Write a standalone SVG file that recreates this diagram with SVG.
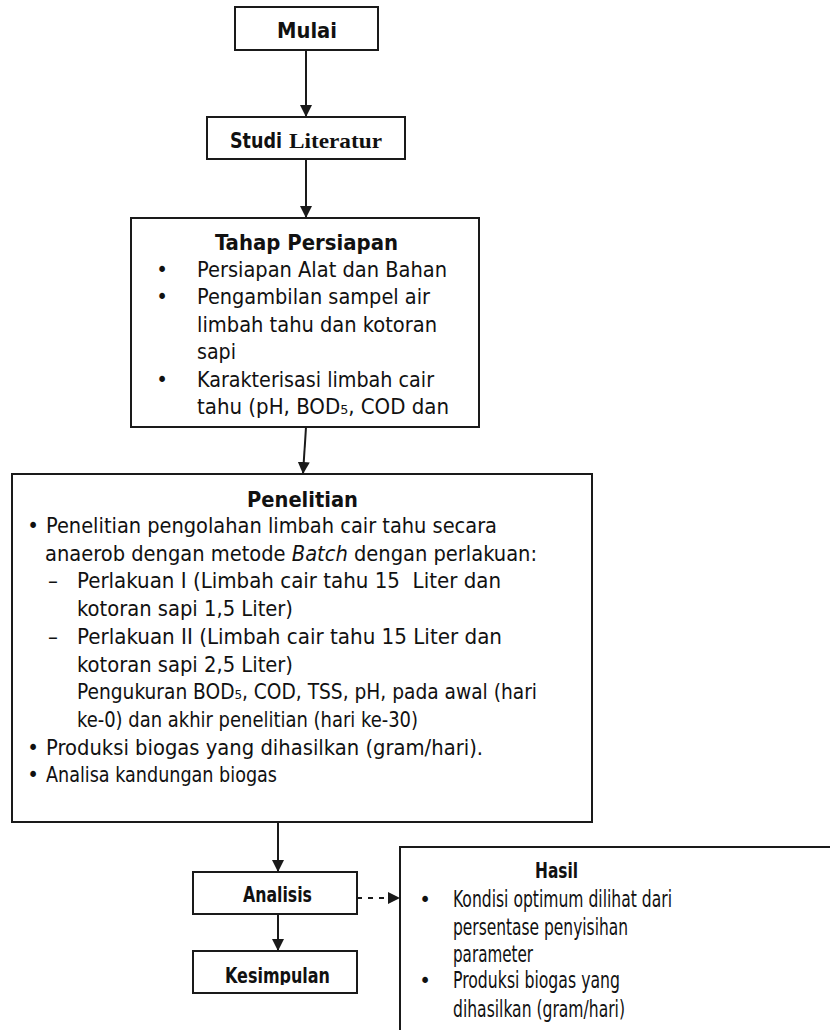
<svg xmlns="http://www.w3.org/2000/svg" width="830" height="1030" viewBox="0 0 830 1030">
<style>
  .box { fill: #ffffff; stroke: #1a1a1a; stroke-width: 2; }
  .t { font-family: "DejaVu Sans Condensed", "DejaVu Sans", sans-serif; font-size: 22px; fill: #111111; }
  .tb { font-family: "DejaVu Sans Condensed", "DejaVu Sans", sans-serif; font-size: 21px; font-weight: bold; fill: #111111; }
  .ts { font-family: "Liberation Serif", "Times New Roman", serif; font-size: 21px; font-weight: bold; fill: #111111; }
  .h { font-family: "DejaVu Sans Condensed", "DejaVu Sans", sans-serif; font-size: 23px; fill: #111111; }
  .conn { stroke: #1a1a1a; stroke-width: 2; fill: none; }
  .dash { stroke-dasharray: 5 6; }
</style>
<defs>
  <marker id="arr" markerUnits="userSpaceOnUse" markerWidth="12" markerHeight="12" refX="12" refY="6" orient="auto">
    <path d="M0,0 L12,6 L0,12 z" fill="#1a1a1a"/>
  </marker>
  <clipPath id="kclip"><rect x="193" y="951" width="164" height="34"/></clipPath>
</defs>

<g id="mulai">
  <rect class="box" x="235" y="7" width="143" height="43"/>
  <text class="tb" x="277" y="38" textLength="60" lengthAdjust="spacingAndGlyphs">Mulai</text>
</g>

<g id="studi">
  <rect class="box" x="207" y="117" width="198" height="42"/>
  <text class="tb" x="230" y="148" textLength="52" lengthAdjust="spacingAndGlyphs">Studi</text>
  <text class="ts" x="289" y="148" textLength="93" lengthAdjust="spacingAndGlyphs">Literatur</text>
</g>

<g id="persiapan">
  <rect class="box" x="131" y="218" width="348" height="209"/>
  <text class="tb" x="215" y="250" textLength="183" lengthAdjust="spacingAndGlyphs">Tahap Persiapan</text>
  <text class="t" x="162" y="277" text-anchor="middle">•</text>
  <text class="t" x="197" y="277" textLength="250" lengthAdjust="spacingAndGlyphs">Persiapan Alat dan Bahan</text>
  <text class="t" x="162" y="304" text-anchor="middle">•</text>
  <text class="t" x="197" y="304" textLength="233" lengthAdjust="spacingAndGlyphs">Pengambilan sampel air</text>
  <text class="t" x="197" y="332" textLength="240" lengthAdjust="spacingAndGlyphs">limbah tahu dan kotoran</text>
  <text class="t" x="197" y="359" textLength="39" lengthAdjust="spacingAndGlyphs">sapi</text>
  <text class="t" x="162" y="387" text-anchor="middle">•</text>
  <text class="t" x="197" y="387" textLength="237" lengthAdjust="spacingAndGlyphs">Karakterisasi limbah cair</text>
  <text class="t" x="197" y="414" textLength="252" lengthAdjust="spacingAndGlyphs">tahu (pH, BOD₅, COD dan</text>
</g>

<g id="penelitian">
  <rect class="box" x="12" y="474" width="580" height="348"/>
  <text class="tb" x="247" y="507" textLength="111" lengthAdjust="spacingAndGlyphs">Penelitian</text>
  <text class="t" x="33" y="533" text-anchor="middle">•</text>
  <text class="t" x="46" y="533" textLength="451" lengthAdjust="spacingAndGlyphs">Penelitian pengolahan limbah cair tahu secara</text>
  <text class="t" x="45" y="561" textLength="492" lengthAdjust="spacingAndGlyphs">anaerob dengan metode <tspan font-style="italic">Batch</tspan> dengan perlakuan:</text>
  <text class="t" x="48" y="588">–</text>
  <text class="t" x="77" y="588" textLength="424" lengthAdjust="spacingAndGlyphs" xml:space="preserve">Perlakuan I (Limbah cair tahu 15  Liter dan</text>
  <text class="t" x="77" y="616" textLength="216" lengthAdjust="spacingAndGlyphs">kotoran sapi 1,5 Liter)</text>
  <text class="t" x="48" y="644">–</text>
  <text class="t" x="77" y="644" textLength="425" lengthAdjust="spacingAndGlyphs">Perlakuan II (Limbah cair tahu 15 Liter dan</text>
  <text class="t" x="77" y="672" textLength="216" lengthAdjust="spacingAndGlyphs">kotoran sapi 2,5 Liter)</text>
  <text class="t" x="77" y="699" textLength="460" lengthAdjust="spacingAndGlyphs">Pengukuran BOD₅, COD, TSS, pH, pada awal (hari</text>
  <text class="t" x="77" y="727" textLength="341" lengthAdjust="spacingAndGlyphs">ke-0) dan akhir penelitian (hari ke-30)</text>
  <text class="t" x="33" y="755" text-anchor="middle">•</text>
  <text class="t" x="46" y="755" textLength="437" lengthAdjust="spacingAndGlyphs">Produksi biogas yang dihasilkan (gram/hari).</text>
  <text class="t" x="33" y="782" text-anchor="middle">•</text>
  <text class="t" x="46" y="782" textLength="231" lengthAdjust="spacingAndGlyphs">Analisa kandungan biogas</text>
</g>

<g id="analisis">
  <rect class="box" x="193" y="872" width="164" height="42"/>
  <text class="tb" x="243" y="902" textLength="69" lengthAdjust="spacingAndGlyphs">Analisis</text>
</g>

<g id="kesimpulan">
  <rect class="box" x="193" y="951" width="164" height="42"/>
  <text class="tb" x="225" y="983" textLength="105" lengthAdjust="spacingAndGlyphs" clip-path="url(#kclip)">Kesimpulan</text>
</g>

<g id="hasil">
  <rect class="box" x="400" y="847" width="450" height="200"/>
  <text class="tb" x="535" y="878" textLength="43" lengthAdjust="spacingAndGlyphs">Hasil</text>
  <text class="t" x="425" y="907" text-anchor="middle">•</text>
  <text class="h" x="453" y="907" textLength="219" lengthAdjust="spacingAndGlyphs">Kondisi optimum dilihat dari</text>
  <text class="h" x="453" y="935" textLength="175" lengthAdjust="spacingAndGlyphs">persentase penyisihan</text>
  <text class="h" x="453" y="962" textLength="80" lengthAdjust="spacingAndGlyphs">parameter</text>
  <text class="t" x="425" y="988" text-anchor="middle">•</text>
  <text class="h" x="453" y="988" textLength="167" lengthAdjust="spacingAndGlyphs">Produksi biogas yang</text>
  <text class="h" x="453" y="1017" textLength="172" lengthAdjust="spacingAndGlyphs">dihasilkan (gram/hari)</text>
</g>

<g id="connectors">
  <line class="conn" x1="306" y1="50" x2="306" y2="117" marker-end="url(#arr)"/>
  <line class="conn" x1="306" y1="159" x2="306" y2="218" marker-end="url(#arr)"/>
  <line class="conn" x1="306" y1="427" x2="303" y2="474" marker-end="url(#arr)"/>
  <line class="conn" x1="278" y1="822" x2="278" y2="872" marker-end="url(#arr)"/>
  <line class="conn" x1="278" y1="914" x2="278" y2="951" marker-end="url(#arr)"/>
  <line class="conn dash" x1="357" y1="898" x2="400" y2="898" marker-end="url(#arr)"/>
</g>
</svg>
